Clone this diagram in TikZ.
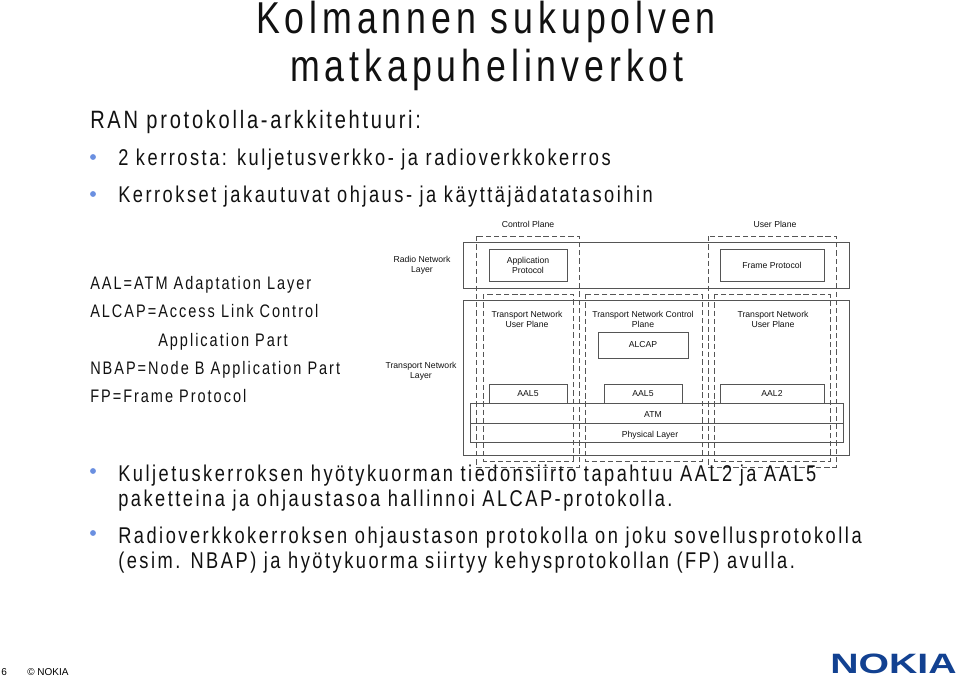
\documentclass[tikz,border=0pt]{standalone}
\usepackage{fontspec}
\usepackage{xcolor}
\setmainfont{Liberation Sans}
\newfontfamily\spacedfont[LetterSpace=11,FakeStretch=0.8]{Liberation Sans}
\newfontfamily\logofont[FakeStretch=1.4]{Liberation Sans}
\newlength{\pxu}
\setlength{\pxu}{0.75pt}
\definecolor{nokiablue}{HTML}{124191}
\definecolor{dotblue}{HTML}{6A8FE0}
\definecolor{linegray}{HTML}{555555}
\definecolor{inktext}{HTML}{111111}
\tikzset{
  layerbox/.style={draw=linegray, line width=0.6pt},
  planebox/.style={draw=linegray, line width=0.6pt, dash pattern=on 4pt off 2.2pt},
  protobox/.style={draw=linegray, line width=0.6pt, fill=white, align=center, inner sep=0pt,
    text=inktext, font=\fontsize{6.5pt}{7.6pt}\selectfont},
  smalllabel/.style={align=center, inner sep=0pt, text=inktext, font=\fontsize{6.5pt}{7.6pt}\selectfont},
  bodyline/.style={anchor=base west, inner sep=0pt, text=inktext, font=\fontsize{17.1pt}{20pt}\spacedfont},
  sidenote/.style={anchor=base west, inner sep=0pt, text=inktext, font=\fontsize{13.6pt}{16pt}\spacedfont},
  headline/.style={anchor=base west, inner sep=0pt, text=inktext, font=\fontsize{18.8pt}{22pt}\spacedfont},
  titleline/.style={anchor=base, inner sep=0pt, text=inktext, font=\fontsize{33.5pt}{38pt}\spacedfont},
  bulletdot/.style={circle, fill=dotblue, inner sep=0pt, minimum size=4.4pt}
}

\begin{document}
\begin{tikzpicture}[x=\pxu, y=-\pxu]
  \useasboundingbox (0,0) rectangle (960,676);
  % layer frames
  \draw[layerbox] (463,242) rectangle (849,288);
  \draw[layerbox] (463,300) rectangle (849,455);
  \node[protobox, minimum width=78\pxu, minimum height=32\pxu] (apppro) at (528,265) {Application\\Protocol};
  \node[protobox, minimum width=104\pxu, minimum height=32\pxu] (framepro) at (772,265) {Frame Protocol};
  \node[protobox, minimum width=90\pxu, minimum height=26\pxu] (alcap) at (643,345) {ALCAP};
  \node[protobox, minimum width=78\pxu, minimum height=19\pxu] (aalone) at (528,393.5) {AAL5};
  \node[protobox, minimum width=78\pxu, minimum height=19\pxu] (aaltwo) at (643,393.5) {AAL5};
  \node[protobox, minimum width=104\pxu, minimum height=19\pxu] (aalthree) at (772,393.5) {AAL2};
  \draw[layerbox] (470,403) rectangle (843,423);
  \draw[layerbox] (470,423) rectangle (843,442);
  \node[smalllabel] (atm) at (653,415) {ATM};
  \node[smalllabel] (phys) at (650,435) {Physical Layer};
  % planes
  \draw[planebox] (476,236) rectangle (579,467);
  \draw[planebox] (483,294) rectangle (573,461);
  \draw[planebox] (585,294) rectangle (702,461);
  \draw[planebox] (708,236) rectangle (836,467);
  \draw[planebox] (714,294) rectangle (830,461);
  \node[smalllabel] (ctrlplane) at (528,224) {Control Plane};
  \node[smalllabel] (userplane) at (775,224) {User Plane};
  \node[smalllabel] (radiolayer) at (422,265) {Radio Network\\Layer};
  \node[smalllabel] (translayer) at (421,371) {Transport Network\\Layer};
  \node[smalllabel] (tnuserone) at (527,319) {Transport Network\\User Plane};
  \node[smalllabel] (tnctrl) at (643,319) {Transport Network Control\\Plane};
  \node[smalllabel] (tnusertwo) at (773,319) {Transport Network\\User Plane};
  % slide text
  \node[titleline] (titleone) at (486,33.5) {Kolmannen sukupolven};
  \node[titleline] (titletwo) at (487,81.5) {matkapuhelinverkot};
  \node[headline] (ran) at (90,128) {RAN protokolla-arkkitehtuuri:};
  \node[bulletdot] (dotone) at (93,157) {};
  \node[bodyline] (kerrosta) at (118,165.5) {2 kerrosta: kuljetusverkko- ja radioverkkokerros};
  \node[bulletdot] (dottwo) at (93,194) {};
  \node[bodyline] (kerrokset) at (118,202.5) {Kerrokset jakautuvat ohjaus- ja käyttäjädatatasoihin};
  \node[sidenote] (aal) at (90,289) {AAL=ATM Adaptation Layer};
  \node[sidenote] (alcapnote) at (90,317) {ALCAP=Access Link Control};
  \node[sidenote] (apppart) at (158,346) {Application Part};
  \node[sidenote] (nbap) at (90,374) {NBAP=Node B Application Part};
  \node[sidenote] (fp) at (90,402) {FP=Frame Protocol};
  \node[bulletdot] (dotthree) at (93,471) {};
  \node[bodyline] (kuljetus) at (118,481) {Kuljetuskerroksen hyötykuorman tiedonsiirto tapahtuu AAL2 ja AAL5};
  \node[bodyline] (paketti) at (118,506.5) {paketteina ja ohjaustasoa hallinnoi ALCAP-protokolla.};
  \node[bulletdot] (dotfour) at (93,533) {};
  \node[bodyline] (radioline) at (118,543) {Radioverkkokerroksen ohjaustason protokolla on joku sovellusprotokolla};
  \node[bodyline] (esim) at (118,568.5) {(esim. NBAP) ja hyötykuorma siirtyy kehysprotokollan (FP) avulla.};
  % footer
  \node[anchor=base west, inner sep=0pt, font=\fontsize{7.5pt}{9pt}\selectfont] (pagenum) at (1,675) {6};
  \node[anchor=base west, inner sep=0pt, font=\fontsize{7.5pt}{9pt}\selectfont] (copyr) at (27,675) {© NOKIA};
  \node[anchor=base west, inner sep=0pt, text=nokiablue, font=\fontsize{21pt}{24pt}\logofont\bfseries] (logo) at (830,673) {NOKIA};
\end{tikzpicture}
\end{document}
